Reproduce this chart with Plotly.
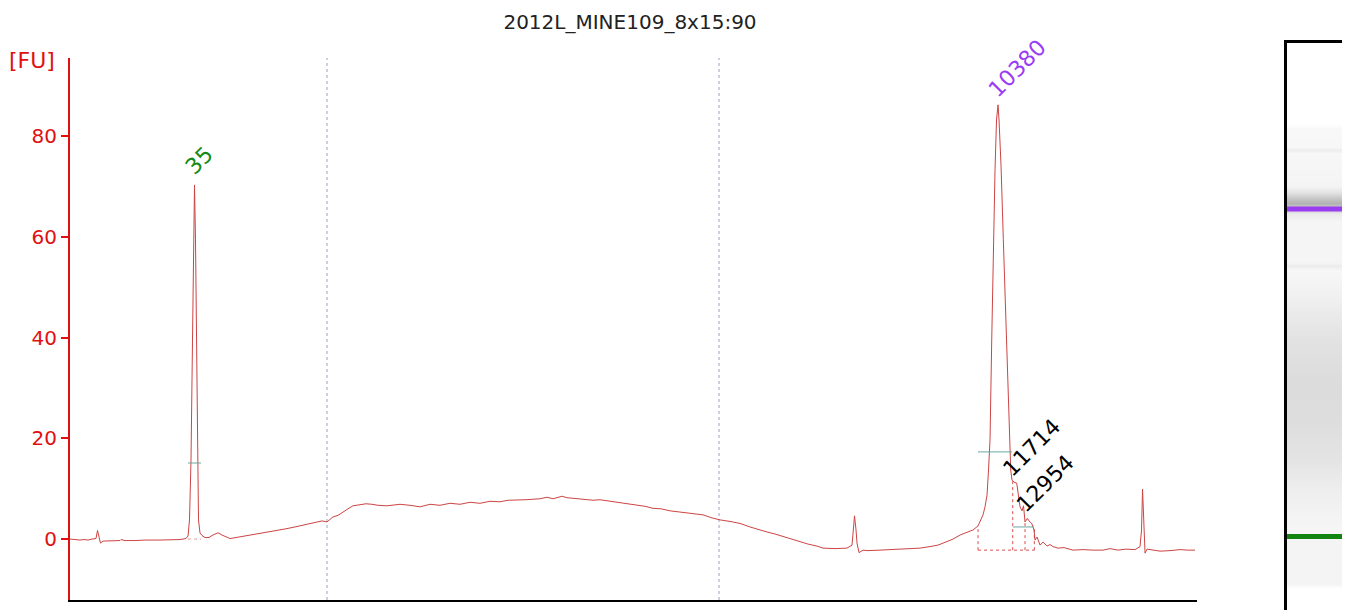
import plotly.graph_objects as go

# electropherogram trace: migration time (s) and fluorescence (FU)
time_s = [19.0, 19.6, 20.0, 20.4, 20.8, 21.2, 21.6, 21.75, 21.9, 22.05, 22.3, 23.0, 24.0, 24.1, 24.5,
          25.5, 26.5, 28.0, 30.0, 30.6, 30.8, 30.95, 31.1, 31.25, 31.35, 31.45, 31.55, 31.65, 31.75,
          31.85, 32.0, 32.2, 32.5, 32.9, 33.2, 33.8, 34.2, 34.6, 35.0, 35.6, 36.5, 37.5, 38.5, 39.5,
          40.5, 41.5, 42.5, 43.5, 44.2, 44.7, 45.3, 45.8, 46.3, 46.8, 47.3, 48.0, 48.6, 49.2, 49.8,
          50.7, 51.3, 52.0, 53.0, 54.0, 55.0, 56.0, 57.0, 58.0, 59.0, 60.0, 61.0, 62.0, 62.8, 63.7,
          64.5, 65.3, 66.0, 66.7, 67.3, 68.2, 68.7, 69.3, 70.3, 71.3, 72.0, 72.7, 73.3, 74.0, 74.8,
          75.7, 76.5, 77.3, 78.1, 79.0, 79.8, 80.7, 81.5, 82.3, 83.2, 84.0, 85.0, 86.0, 87.0, 87.8,
          88.7, 89.5, 90.3, 91.1, 92.0, 92.8, 93.7, 94.3, 95.5, 96.7, 97.2, 97.3, 97.45, 97.6, 97.7,
          97.9, 98.3, 98.7, 99.3, 100.0, 101.0, 102.3, 103.2, 104.0, 105.0, 105.8, 106.7, 107.3,
          108.0, 108.7, 109.3, 109.8, 110.0, 110.3, 110.5, 110.7, 110.85, 111.0, 111.17, 111.33,
          111.5, 111.65, 111.8, 111.9, 112.0, 112.1, 112.33, 112.5, 112.67, 112.8, 112.93, 113.07,
          113.2, 113.4, 113.67, 113.8, 114.0, 114.2, 114.35, 114.5, 114.73, 114.9, 115.17, 115.4,
          115.5, 115.7, 116.0, 116.3, 116.7, 117.0, 117.3, 117.8, 118.4, 119.3, 120.3, 121.3, 122.3,
          123.0, 123.8, 124.6, 125.5, 126.0, 126.15, 126.25, 126.35, 126.5, 126.7, 127.3, 128.0,
          129.0, 130.0, 130.8, 131.5]
fu = [0.0, -0.1, -0.2, -0.1, -0.2, 0.0, 0.1, 1.7, 0.6, -0.8, -0.4, -0.3, -0.3, -0.1, -0.3,
      -0.3, -0.2, -0.2, -0.1, 0.1, 0.6, 3.8, 15.7, 39.5, 59.4, 70.3, 59.4, 39.5, 15.7,
      3.8, 1.2, 0.7, 0.3, 0.3, 0.7, 1.25, 0.8, 0.5, 0.1, 0.3, 0.6, 0.85, 1.2, 1.6,
      2.0, 2.4, 2.8, 3.2, 3.6, 3.4, 4.4, 4.7, 5.4, 6.0, 6.6, 6.8, 7.0, 6.9, 6.7,
      6.6, 6.8, 6.9, 6.7, 6.4, 6.9, 6.7, 7.1, 6.9, 7.3, 7.1, 7.5, 7.4, 7.7, 7.7,
      7.8, 7.9, 8.0, 8.3, 8.0, 8.5, 8.2, 8.1, 7.9, 7.7, 7.8, 7.6, 7.3, 7.1, 6.9,
      6.6, 6.5, 6.1, 6.0, 5.6, 5.4, 5.1, 5.0, 4.8, 4.2, 3.8, 3.5, 3.1, 2.4, 1.9,
      1.4, 1.0, 0.5, 0.0, -0.5, -1.0, -1.4, -1.8, -1.9, -1.8, -1.2, 1.8, 4.6, 1.8, -0.8,
      -2.7, -2.2, -2.3, -2.3, -2.2, -2.1, -2.0, -1.9, -1.8, -1.5, -1.2, -0.5, 0.0,
      0.8, 1.4, 1.8, 2.6, 3.4, 4.8, 6.4, 8.7, 13.7, 19.7, 39.5, 59.4,
      73.3, 83.2, 86.2, 83.2, 79.2, 74.2, 59.4, 49.4, 39.5, 30.6, 23.0, 13.7,
      11.7, 11.3, 11.1, 8.7, 6.4, 5.6, 6.6, 3.4, 4.1, 3.6, 3.1, 1.8,
      -0.2, 0.4, -1.2, -0.6, -1.4, -1.1, -1.5, -1.8, -1.7, -2.2, -2.1, -2.2, -2.2,
      -1.9, -2.2, -2.0, -2.1, -1.5, 1.8, 9.9, 3.8, -2.8, -2.0, -2.2, -2.4,
      -2.3, -2.1, -2.2, -2.2]

# peak labels
peak_labels = ["35", "10380", "11714", "12954"]
peak_label_t = [31.9, 113.7, 115.2, 116.5]
peak_label_fu = [75.2, 93.5, 18.1, 11.1]
peak_label_colors = ["#138a13", "#9a3cf5", "black", "black"]

# half-height width markers (start, end, level)
half_t0 = [30.8, 109.8, 113.3]
half_t1 = [32.1, 113.2, 115.4]
half_fu = [15.1, 17.3, 2.4]

# peak area baselines / boundaries
base_35 = ([30.8, 32.1], [0.0, 0.0])
region_bottom = -2.2
region_edges_t = [109.8, 113.27, 114.5, 115.43]
region_edges_top = [2.6, 11.5, 3.8, 2.4]

# marker dotted lines (lower / upper marker windows)
window_t = [44.7, 83.9]

# gel lane: intensity profile (0 black - 255 white) along migration position
gel_pos = [43, 124, 128, 147, 150, 153, 186, 192, 198, 203, 214, 222, 262, 266, 270, 300,
           340, 380, 420, 460, 490, 520, 530, 545, 584, 588, 610]
gel_level = [255, 255, 248, 247, 236, 247, 244, 228, 200, 178, 236, 245, 245, 236, 247, 239,
             226, 220, 221, 228, 238, 244, 245, 244, 244, 255, 255]
gel_band_pos = [209, 536.5]
gel_band_colors = ["#9a3cf0", "#118411"]

fig = go.Figure()

for t in window_t:
    fig.add_trace(go.Scatter(x=[t, t], y=[-12.1, 95.5], mode="lines",
                             line=dict(color="#9aa0c0", width=1, dash="dot"),
                             hoverinfo="skip", showlegend=False))

fig.add_trace(go.Scatter(x=base_35[0], y=base_35[1], mode="lines",
                         line=dict(color="#e89a9a", width=1, dash="dot"), showlegend=False))
fig.add_trace(go.Scatter(x=[region_edges_t[0], region_edges_t[-1]], y=[region_bottom, region_bottom],
                         mode="lines", line=dict(color="#d85050", width=1, dash="dot"), showlegend=False))
for t, top in zip(region_edges_t, region_edges_top):
    fig.add_trace(go.Scatter(x=[t, t], y=[region_bottom, top], mode="lines",
                             line=dict(color="#d85050", width=1, dash="dot"), showlegend=False))

fig.add_trace(go.Scatter(x=time_s, y=fu, mode="lines",
                         line=dict(color="#cc4444", width=1), showlegend=False))

for a, b, v in zip(half_t0, half_t1, half_fu):
    fig.add_trace(go.Scatter(x=[a, b], y=[v, v], mode="lines",
                             line=dict(color="#6aa8a0", width=1), showlegend=False))

for txt, t, v, c in zip(peak_labels, peak_label_t, peak_label_fu, peak_label_colors):
    fig.add_annotation(x=t, y=v, text=txt, textangle=-45, showarrow=False,
                       font=dict(family="DejaVu Sans", size=22, color=c))

# gel image
fig.add_trace(go.Heatmap(x=[0, 1], y=gel_pos, z=[[g, g] for g in gel_level],
                         xaxis="x2", yaxis="y2", zmin=0, zmax=255, zsmooth="best",
                         colorscale=[[0, "rgb(0,0,0)"], [1, "rgb(255,255,255)"]],
                         showscale=False, hoverinfo="skip"))
for pos, c in zip(gel_band_pos, gel_band_colors):
    fig.add_trace(go.Scatter(x=[0, 1], y=[pos, pos], mode="lines", xaxis="x2", yaxis="y2",
                             line=dict(color=c, width=5), showlegend=False))

fig.add_annotation(x=-0.0102, y=0.970, xref="paper", yref="paper", text="[FU]",
                   xanchor="right", yanchor="middle", showarrow=False,
                   font=dict(family="DejaVu Sans", size=22, color="#e01010"))

fig.update_layout(
    width=1342, height=602,
    margin=dict(l=62, r=0, t=35, b=0),
    plot_bgcolor="white", paper_bgcolor="white",
    font=dict(family="DejaVu Sans"),
    title=dict(text="2012L_MINE109_8x15:90", x=0.4635, xref="container", xanchor="center",
               y=0.977, yref="container", yanchor="middle",
               font=dict(family="DejaVu Sans", size=20, color="#222")),
    xaxis=dict(domain=[0, 0.8805], range=[19.0, 131.7], showticklabels=False, ticks="",
               showgrid=False, zeroline=False, showline=True, linecolor="black", linewidth=2),
    yaxis=dict(domain=[0.01764, 0.97354], range=[-12.1, 95.5], tickvals=[0, 20, 40, 60, 80],
               ticks="outside", ticklen=7, tickwidth=2, tickcolor="#e01010",
               showline=True, linecolor="#e01010", linewidth=2, showgrid=False, zeroline=False,
               tickfont=dict(family="DejaVu Sans", size=20, color="#e01010")),
    xaxis2=dict(domain=[0.9508, 1.0], range=[0, 1], anchor="y2", side="top", showticklabels=False,
                ticks="", showgrid=False, zeroline=False, showline=True, linecolor="black", linewidth=3),
    yaxis2=dict(domain=[0, 1], range=[610, 43], anchor="x2", showticklabels=False, ticks="",
                showgrid=False, zeroline=False, showline=True, linecolor="black", linewidth=3),
)

fig.write_html("out.html")
